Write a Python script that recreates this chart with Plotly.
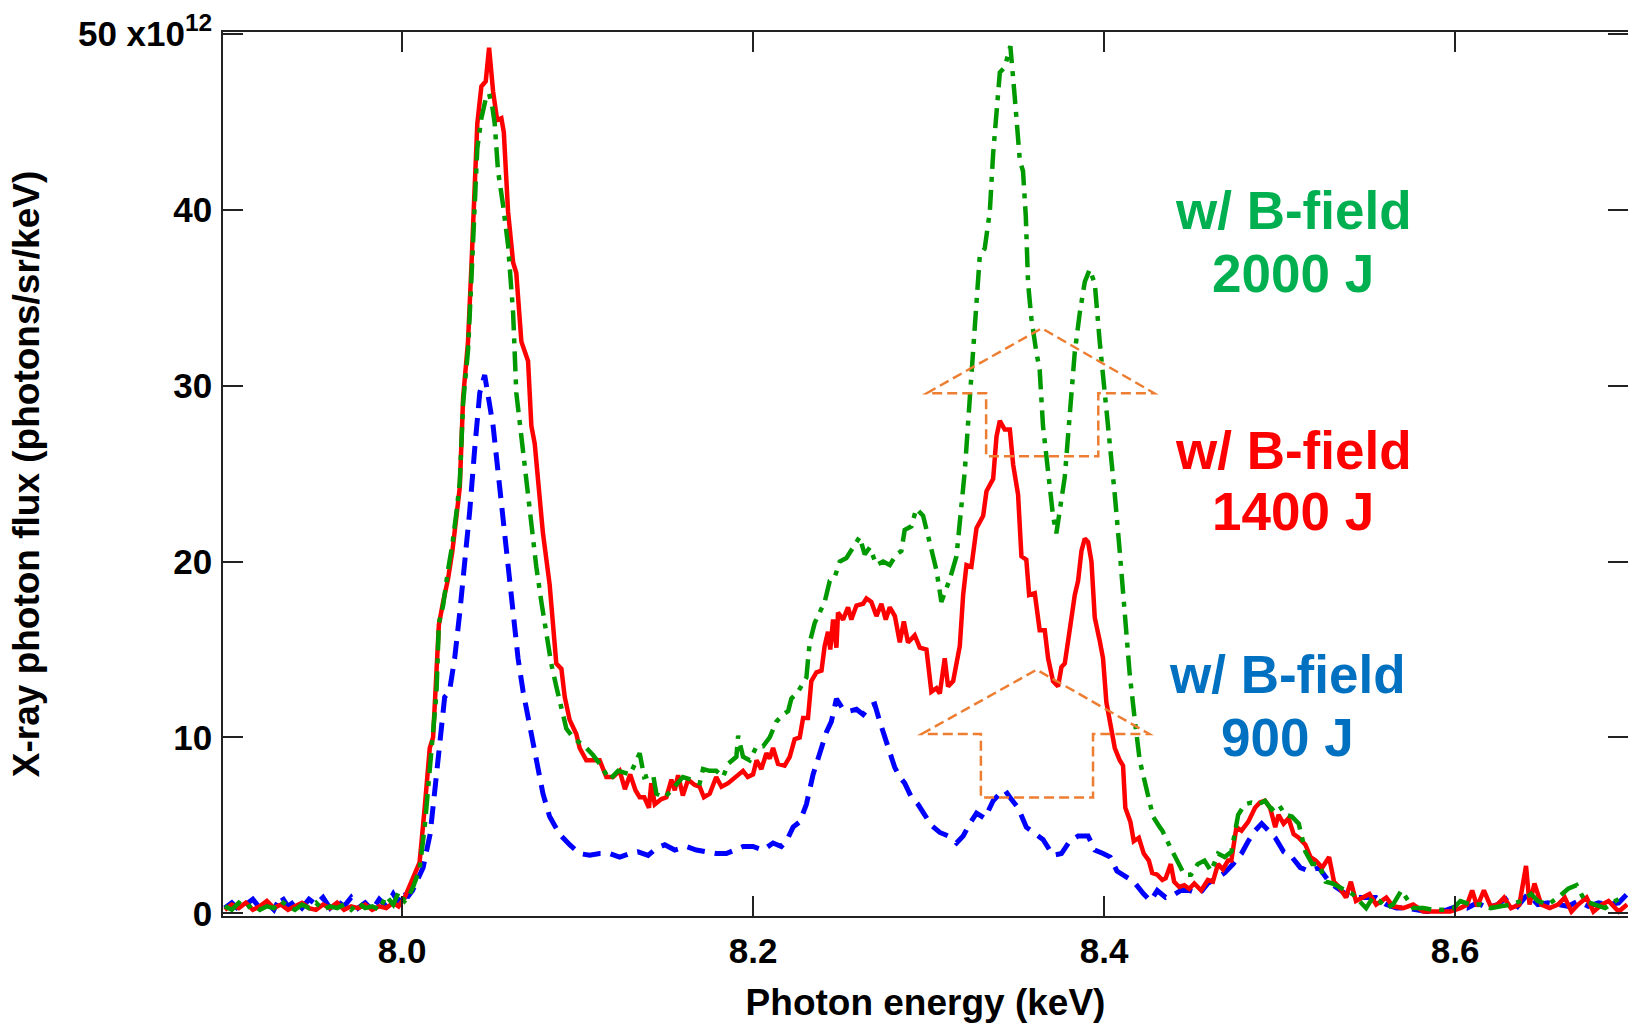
import plotly.graph_objects as go

# ---------------- data (keV, 10^12 photons/sr/keV) ----------------
red_x = [7.899, 7.903, 7.907, 7.911, 7.915, 7.919, 7.923, 7.927, 7.931, 7.935, 7.939, 7.943, 7.947, 7.951,
         7.955, 7.959, 7.963, 7.967, 7.971, 7.975, 7.979, 7.983, 7.987, 7.991, 7.995, 7.998, 8.0015, 8.004,
         8.0063, 8.010, 8.013, 8.0158, 8.0177, 8.0196, 8.021, 8.0234, 8.0262, 8.0287, 8.031, 8.0329, 8.0348,
         8.0363, 8.0376, 8.0395, 8.0414, 8.0429, 8.0452, 8.0477, 8.0496, 8.0519, 8.0542, 8.0566, 8.058,
         8.0604, 8.0633, 8.0651, 8.068, 8.0718, 8.0737, 8.0756, 8.0803, 8.0841, 8.0879, 8.0908, 8.0927,
         8.0955, 8.0993, 8.1012, 8.105, 8.1088,
         8.1126, 8.1164, 8.1202, 8.124, 8.127, 8.13, 8.133, 8.1354, 8.138, 8.1407, 8.142, 8.144, 8.1478,
         8.1506, 8.1535, 8.1554, 8.1573, 8.16, 8.163, 8.1668, 8.1696, 8.172, 8.1753, 8.179, 8.182, 8.1858,
         8.1905, 8.1943, 8.197, 8.2, 8.202, 8.2047, 8.2076, 8.2095, 8.2114, 8.2142, 8.218, 8.2209, 8.2237,
         8.2266, 8.2285, 8.2313, 8.2332, 8.2361, 8.239, 8.2408, 8.2427, 8.244, 8.2456, 8.2475, 8.2484,
         8.2513, 8.2541, 8.256, 8.2589, 8.2627, 8.2646, 8.2674, 8.2703, 8.2731, 8.2756, 8.2779, 8.2808,
         8.2836, 8.2859, 8.2883, 8.2921, 8.295, 8.2988, 8.3016, 8.3045,
         8.3064, 8.3092, 8.3111, 8.314, 8.3178, 8.3197, 8.3216, 8.3244, 8.3273, 8.3311, 8.333, 8.3368,
         8.3387, 8.3406, 8.3434, 8.3463, 8.3482, 8.351, 8.3529, 8.3557, 8.3573, 8.3605, 8.3633, 8.3662,
         8.3681, 8.3709, 8.3738, 8.3757, 8.3776, 8.3804, 8.3833, 8.3852, 8.3871, 8.389, 8.3909, 8.3928,
         8.3947, 8.3975, 8.3994, 8.4013, 8.4035, 8.4061, 8.4089, 8.4108, 8.4121, 8.415, 8.4169, 8.4198,
         8.4226, 8.4255, 8.4274, 8.4303, 8.4332, 8.4351, 8.438, 8.4399, 8.4428, 8.4457, 8.4485, 8.4514,
         8.4553, 8.4591, 8.462, 8.4649, 8.4677, 8.4706, 8.4725, 8.4754, 8.4783, 8.4821, 8.486, 8.4888,
         8.4917, 8.4946, 8.4975, 8.4994, 8.5023, 8.5051, 8.508, 8.5109, 8.5147, 8.5176, 8.5205, 8.5243,
         8.5282, 8.531, 8.5339, 8.5378, 8.5406, 8.5435, 8.5474, 8.5512, 8.555, 8.5608, 8.5646, 8.5704,
         8.5761, 8.5819, 8.5896, 8.5972, 8.603, 8.6068, 8.6097, 8.6126, 8.6164, 8.6203, 8.6241, 8.6279,
         8.6318, 8.6366, 8.6404, 8.6424, 8.6452, 8.6491, 8.6538, 8.6586, 8.6625, 8.6663, 8.6701, 8.6749,
         8.6788, 8.6836, 8.6874, 8.6932, 8.698]
red_y = [0.2, 0.5, 0.3, 0.6, 0.2, 0.4, 0.7, 0.3, 0.5, 0.2, 0.4, 0.6, 0.3, 0.2,
         0.5, 0.3, 0.6, 0.2, 0.4, 0.3, 0.5, 0.2, 0.4, 0.3, 0.6, 0.4, 0.9, 1.5,
         2.0, 2.9, 6.1, 9.4, 10.0, 13.2, 16.4, 17.7, 19.0, 20.6, 22.6, 24.2, 29.3,
         30.9, 32.5, 36.7, 41.5, 44.9, 47.0, 47.3, 49.2, 46.7, 45.1, 45.2, 44.4,
         39.9, 37.0, 36.4, 32.5, 31.4, 27.7, 26.7, 21.6, 18.7, 14.2, 13.9, 12.3,
         11.0, 10.2, 9.4, 8.7, 8.7,
         8.7, 7.75, 7.75, 8.1, 7.06, 7.9, 7.0, 6.6, 6.6, 6.0, 7.4, 6.2, 6.5,
         6.6, 7.6, 7.0, 7.85, 6.7, 7.6, 7.3, 7.2, 6.6, 6.8, 7.75, 7.2, 7.4,
         7.75, 8.1, 7.75, 7.9, 8.7, 8.2, 9.1, 8.8, 9.4, 8.5, 8.4, 8.9, 9.9,
         10.0, 11.1, 11.1, 13.2, 13.7, 13.8, 15.2, 16.0, 15.0, 16.7, 15.1, 17.1,
         16.7, 17.4, 16.7, 17.5, 17.6, 17.9, 17.7, 16.9, 17.6, 16.7, 17.4, 16.9,
         15.4, 16.6, 15.4, 15.8, 15.1, 15.0, 12.6, 12.8,
         12.5, 14.5, 12.9, 13.2, 15.2, 18.1, 19.8, 19.7, 21.9, 22.6, 24.0, 24.7,
         27.1, 28.0, 27.5, 27.5, 25.5, 23.8, 20.3, 20.1, 18.1, 18.2, 16.1, 16.1,
         14.5, 13.2, 12.9, 14.0, 14.2, 16.1, 18.1, 18.9, 20.6, 21.3, 21.1, 20.0,
         16.8, 15.5, 14.5, 12.0, 10.7, 9.4, 8.7, 8.4, 6.0, 5.2, 4.1, 4.3,
         3.4, 3.0, 2.3, 2.2, 1.9, 2.0, 2.8, 1.8, 1.5, 1.6, 1.4, 1.7,
         1.3, 1.9, 1.8, 2.8, 2.5, 3.0, 3.0, 4.9, 4.7, 5.2, 6.0, 6.3,
         6.4, 6.0, 4.9, 5.6, 5.1, 5.4, 4.5, 4.3, 3.9, 3.2, 3.0, 2.6,
         3.2, 1.8, 1.5, 0.9, 1.8, 0.7, 0.9, 1.1, 0.5, 0.9, 0.4, 0.3,
         0.5, 0.1, 0.1, 0.1, 0.3, 0.5, 1.3, 0.4, 1.3, 0.4, 0.5, 0.9,
         0.3, 0.5, 2.7, 0.5, 1.7, 0.5, 0.3, 0.5, 0.9, 0.1, 0.5, 0.9,
         0.1, 0.5, 0.7, 0.1, 0.5]

green_x = [7.899, 7.903, 7.907, 7.911, 7.915, 7.919, 7.923, 7.927, 7.931, 7.935, 7.939, 7.943, 7.947, 7.951,
           7.955, 7.959, 7.963, 7.967, 7.971, 7.975, 7.979, 7.983, 7.987, 7.991, 7.995, 7.998, 8.0015, 8.004,
           8.0063, 8.010, 8.013, 8.0158, 8.0177, 8.0196, 8.021, 8.0234, 8.0262, 8.0287, 8.031, 8.0329, 8.0348,
           8.0363, 8.0376, 8.0395, 8.0414, 8.0429, 8.0452, 8.0477, 8.0496, 8.0515, 8.0528, 8.0547, 8.0575,
           8.0604, 8.0633, 8.0651, 8.068, 8.0708, 8.0737, 8.0765, 8.0794, 8.0822, 8.085, 8.0879, 8.0908,
           8.0936, 8.0974, 8.1012, 8.105, 8.1088,
           8.1126, 8.1183, 8.1231, 8.13, 8.1335, 8.1354, 8.138, 8.143, 8.1449, 8.1497, 8.1535, 8.1573,
           8.16, 8.1649, 8.1696, 8.1715, 8.1753, 8.179, 8.1829, 8.1858, 8.1905, 8.1915, 8.1943, 8.1981,
           8.202, 8.2057, 8.2095, 8.2133, 8.2171, 8.22, 8.2218, 8.2256, 8.2304, 8.2313, 8.2323, 8.2351,
           8.237, 8.2408, 8.2437, 8.2465, 8.2494, 8.2532, 8.257, 8.2608, 8.2636, 8.2665, 8.2703, 8.2741,
           8.2779, 8.2817, 8.2845, 8.2864, 8.2902, 8.293, 8.2969, 8.3007, 8.3045, 8.3073, 8.3102,
           8.3121, 8.3159, 8.3187, 8.3206, 8.3235, 8.3254, 8.3273, 8.3292, 8.332, 8.3349, 8.3368, 8.3387,
           8.3406, 8.3434, 8.3453, 8.3466, 8.3491, 8.352, 8.3538, 8.3554, 8.3567, 8.3586, 8.3614, 8.3633,
           8.3652, 8.3681, 8.3709, 8.3728, 8.3747, 8.3776, 8.3804, 8.3833, 8.3861, 8.389, 8.3918, 8.3947,
           8.3975, 8.4004, 8.4032, 8.4061, 8.4089, 8.4118, 8.4146, 8.4175, 8.4203, 8.4241, 8.4279, 8.4317,
           8.4332, 8.438, 8.4418, 8.4457, 8.4495, 8.4533, 8.4572, 8.461, 8.4649, 8.4687, 8.4725, 8.4764,
           8.4802, 8.484, 8.4879, 8.4917, 8.4955, 8.4994, 8.5032, 8.507, 8.5109, 8.5147, 8.5186, 8.5224,
           8.5262, 8.5301, 8.5339, 8.5378, 8.5416, 8.5454, 8.5493, 8.5531, 8.557, 8.5608, 8.5646, 8.5694,
           8.5723, 8.5761, 8.5819, 8.5876, 8.5934, 8.5991, 8.603, 8.6087, 8.6145, 8.6203, 8.626, 8.6318,
           8.6375, 8.6433, 8.6471, 8.6529, 8.6586, 8.6644, 8.6692, 8.674, 8.6797, 8.6855, 8.6913, 8.697]
green_y = [0.4, 0.2, 0.6, 0.3, 0.5, 0.2, 0.4, 0.3, 0.7, 0.4, 0.2, 0.5, 0.3, 0.6,
           0.2, 0.4, 0.3, 0.5, 0.2, 0.6, 0.3, 0.4, 0.2, 1.0, 0.5, 1.2, 0.7, 1.0,
           1.5, 2.5, 5.0, 8.5, 10.5, 12.5, 16.5, 17.5, 19.5, 21.0, 22.8, 24.5, 29.0,
           30.8, 32.0, 36.0, 40.5, 43.5, 45.2, 46.3, 46.6, 45.8, 44.9, 42.2, 40.3,
           38.0, 34.1, 29.6, 27.1, 24.5, 21.9, 19.7, 17.7, 15.8, 14.2, 12.9, 11.6,
           10.5, 10.0, 9.7, 9.4, 9.0,
           8.5, 7.6, 8.1, 7.9, 8.7, 9.1, 7.75, 7.9, 6.8, 6.6, 7.0, 7.4,
           7.75, 7.6, 7.4, 8.2, 8.1, 8.1, 7.75, 8.5, 8.9, 10.1, 8.9, 8.7,
           9.5, 9.5, 10.0, 10.9, 11.3, 11.5, 12.2, 12.6, 13.4, 14.4, 15.4, 16.5,
           16.9, 17.7, 18.9, 19.1, 20.0, 20.2, 20.8, 21.4, 20.4, 20.8, 19.8, 20.0,
           19.8, 20.4, 20.6, 21.8, 22.0, 23.0, 22.6, 21.0, 19.5, 17.7, 18.5,
           19.0, 20.3, 22.9, 25.1, 29.3, 32.2, 35.1, 37.4, 37.8, 39.9, 43.2, 45.4,
           47.8, 48.1, 48.9, 49.3, 46.4, 42.8, 42.2, 39.6, 35.8, 33.8, 31.9, 30.9,
           27.7, 25.1, 22.6, 21.6, 22.9, 24.8, 28.3, 31.9, 34.1, 35.9, 36.6, 35.8,
           32.5, 29.6, 27.1, 23.8, 20.6, 17.1, 13.6, 11.0, 8.7, 7.1, 5.5, 4.9,
           4.7, 3.7, 3.0, 2.2, 2.2, 2.8, 3.0, 2.4, 3.4, 3.2, 3.5, 5.6,
           6.2, 6.3, 6.2, 6.4, 5.9, 6.2, 5.6, 5.5, 5.1, 3.5, 2.8, 2.8,
           1.8, 1.7, 1.5, 1.3, 1.1, 0.7, 0.3, 0.9, 0.7, 0.3, 0.5, 1.3,
           0.9, 0.3, 0.3, 0.2, 0.2, 0.3, 0.7, 0.5, 0.5, 0.3, 0.4, 0.5,
           0.7, 1.1, 0.7, 0.5, 0.9, 1.4, 1.6, 0.7, 0.5, 0.3, 0.7, 1.0]

blue_x = [7.899, 7.903, 7.907, 7.911, 7.915, 7.919, 7.923, 7.927, 7.931, 7.935, 7.939, 7.943, 7.947, 7.951,
          7.955, 7.959, 7.963, 7.967, 7.971, 7.975, 7.979, 7.983, 7.987, 7.991, 7.995, 7.998, 8.0015, 8.003,
          8.006, 8.012, 8.016, 8.0188, 8.0215, 8.0243, 8.027, 8.03, 8.0329, 8.0357, 8.0386, 8.0414, 8.0443,
          8.0471, 8.049, 8.0519, 8.0547, 8.0575, 8.0604, 8.0633, 8.0661, 8.069, 8.0727, 8.0765, 8.0803,
          8.0841, 8.0898, 8.0955, 8.1012, 8.1069,
          8.1126, 8.1183, 8.124, 8.1297, 8.1345, 8.1402, 8.145, 8.1497, 8.1554, 8.162, 8.1677, 8.1734,
          8.179, 8.1848, 8.1896, 8.1943, 8.2, 8.2057, 8.2114, 8.2161, 8.219, 8.2228, 8.2266, 8.2304,
          8.2342, 8.238, 8.2418, 8.2446, 8.2475, 8.2513, 8.255, 8.2589, 8.2627, 8.2665, 8.2693, 8.2722,
          8.275, 8.2779, 8.2807, 8.2836, 8.2864, 8.2902, 8.294, 8.2978, 8.3016, 8.3064, 8.3111, 8.3159,
          8.3197, 8.3235, 8.3273, 8.332, 8.3368, 8.3406, 8.3435, 8.3463, 8.351, 8.3557, 8.3614, 8.3652,
          8.3709, 8.3757, 8.3804, 8.3852, 8.3909, 8.3947, 8.3994, 8.4035, 8.4073, 8.413, 8.4169, 8.4226,
          8.4265, 8.4303, 8.4351, 8.4389, 8.4437, 8.4485, 8.4543, 8.4591, 8.4639, 8.4687, 8.4735, 8.4783,
          8.4821, 8.486, 8.4898, 8.4936, 8.4975, 8.5023, 8.507, 8.5118, 8.5167, 8.5224, 8.5282, 8.532,
          8.5378, 8.5435, 8.5493, 8.555, 8.5608, 8.5666, 8.5723, 8.578, 8.5838, 8.5896, 8.5953, 8.601,
          8.6068, 8.6126, 8.6184, 8.6241, 8.6299, 8.6356, 8.6414, 8.6471, 8.6529, 8.6586, 8.6644, 8.6701,
          8.6759, 8.6817, 8.6874, 8.6932, 8.698]
blue_y = [0.3, 0.6, 0.2, 0.5, 0.8, 0.3, 0.6, 0.2, 1.0, 0.4, 0.7, 0.3, 0.8, 0.5,
          0.9, 0.3, 0.7, 0.4, 0.9, 0.3, 0.6, 0.2, 0.8, 0.4, 1.1, 0.6, 1.3, 0.9,
          1.3, 2.6, 4.5, 7.1, 10.0, 12.3, 12.6, 14.5, 17.1, 19.7, 22.9, 26.4, 29.6,
          30.6, 29.6, 27.7, 25.1, 22.6, 19.7, 17.1, 14.5, 12.6, 10.7, 8.7, 6.8,
          5.5, 4.5, 3.9, 3.4, 3.3,
          3.4, 3.4, 3.2, 3.4, 3.5, 3.3, 3.7, 3.9, 3.6, 3.8, 3.6, 3.5,
          3.4, 3.4, 3.6, 3.8, 3.8, 3.6, 4.0, 3.8, 4.1, 4.9, 5.2, 6.2,
          7.9, 9.1, 10.3, 10.9, 12.2, 11.6, 11.5, 11.6, 11.3, 11.8, 11.9, 10.9,
          10.1, 9.3, 8.3, 7.75, 7.4, 6.6, 6.2, 5.6, 5.0, 4.6, 4.4, 4.0,
          4.4, 5.1, 5.7, 5.4, 6.4, 6.8, 7.0, 6.6, 6.0, 4.9, 4.5, 4.2,
          3.3, 3.4, 4.1, 4.4, 4.4, 3.6, 3.4, 3.2, 2.4, 2.0, 1.8, 1.1,
          0.7, 1.3, 0.9, 1.0, 1.3, 1.3, 1.1, 1.7, 2.0, 2.3, 2.8, 3.4,
          4.1, 4.7, 5.1, 4.7, 4.3, 3.5, 3.2, 2.6, 2.4, 2.6, 1.8, 1.5,
          1.1, 0.9, 0.9, 0.9, 0.5, 0.3, 0.3, 0.2, 0.1, 0.1, 0.2, 0.4,
          0.3, 0.6, 0.3, 0.5, 0.9, 0.4, 1.1, 0.5, 0.6, 0.5, 0.4, 0.7,
          0.4, 0.6, 0.5, 0.6, 1.1]

x_ticks = [8.0, 8.2, 8.4, 8.6]
y_ticks = [0, 10, 20, 30, 40, 50]
y_ticktext = ["0", "10", "20", "30", "40", "50 x10<sup>12</sup>"]

labels = [("w/ B-field", "2000 J", "#00B050"),
          ("w/ B-field", "1400 J", "#FF0000"),
          ("w/ B-field", "900 J", "#0070C0")]

# ---------------- layout geometry (annotation positions) ----------------
label_pos = [(8.5077, 39.97, 36.4), (8.5077, 26.3, 22.85), (8.5043, 13.55, 9.98)]

# block arrows (outline vertices, data coords)
arrow_upper = [(8.299, 29.57), (8.3645, 33.26), (8.4285, 29.57), (8.3967, 29.57), (8.3967, 25.98),
               (8.3328, 25.98), (8.3328, 29.57)]
arrow_lower = [(8.2961, 10.2), (8.3616, 13.85), (8.4257, 10.2), (8.3937, 10.2), (8.3937, 6.58),
               (8.3298, 6.58), (8.3298, 10.2)]

FONT = "Liberation Sans, Arial, Helvetica, sans-serif"

fig = go.Figure()
fig.add_trace(go.Scatter(x=blue_x, y=blue_y, mode="lines", name="900 J",
                         line=dict(color="#0000FF", width=5, dash="18px,10px")))
fig.add_trace(go.Scatter(x=red_x, y=red_y, mode="lines", name="1400 J",
                         line=dict(color="#FF0000", width=4.5)))
fig.add_trace(go.Scatter(x=green_x, y=green_y, mode="lines", name="2000 J",
                         line=dict(color="#009900", width=4.5, dash="20px,8px,5px,8px")))


def arrow_path(pts):
    return "M " + " L ".join(f"{x},{y}" for x, y in pts) + " Z"


for pts in (arrow_upper, arrow_lower):
    fig.add_shape(type="path", xref="x", yref="y", path=arrow_path(pts),
                  line=dict(color="#ED7D31", width=2.5, dash="10px,5px"), layer="above")

for (l1, l2, col), (lx, ly1, ly2) in zip(labels, label_pos):
    for txt, yy in ((l1, ly1), (l2, ly2)):
        fig.add_annotation(x=lx, y=yy, xref="x", yref="y", text=f"<b>{txt}</b>", showarrow=False,
                           xanchor="center", yanchor="middle",
                           font=dict(family=FONT, size=53, color=col))

fig.update_layout(
    width=1628, height=1025,
    margin=dict(l=223, r=0, t=32, b=109, autoexpand=False),
    paper_bgcolor="white", plot_bgcolor="white",
    showlegend=False,
    font=dict(family=FONT, color="black"),
)
fig.update_xaxes(
    range=[7.898, 8.6985], tickvals=x_ticks, ticktext=[f"<b>{v:.1f}</b>" for v in x_ticks],
    ticks="inside", ticklen=20, tickwidth=1.5, tickcolor="#222",
    showline=True, linecolor="#222", linewidth=1.5, mirror="ticks",
    showgrid=False, zeroline=False,
    tickfont=dict(family=FONT, size=35, color="black"), ticklabelstandoff=3,
    title=dict(text="<b>Photon energy (keV)</b>", standoff=20,
               font=dict(family=FONT, size=37, color="black")),
    automargin=False,
)
fig.update_yaxes(
    range=[-0.15, 50.1], tickvals=y_ticks, ticktext=[f"<b>{t}</b>" for t in y_ticktext],
    ticks="inside", ticklen=20, tickwidth=1.5, tickcolor="#222",
    showline=True, linecolor="#222", linewidth=1.5, mirror="ticks",
    showgrid=False, zeroline=False,
    tickfont=dict(family=FONT, size=35, color="black"), ticklabelstandoff=2,
    title=dict(text="<b>X-ray photon flux (photons/sr/keV)</b>", standoff=27,
               font=dict(family=FONT, size=37, color="black")),
    automargin=False,
)

fig.write_html("out.html")
